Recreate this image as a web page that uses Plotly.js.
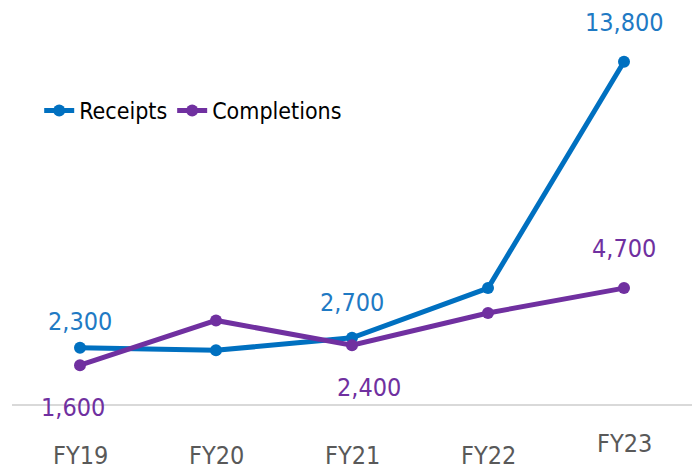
<!DOCTYPE html>
<html><head><meta charset="utf-8">
<script src="https://cdn.plot.ly/plotly-3.0.1.min.js"></script>
<style>html,body{margin:0;padding:0;background:#fff}#chart{width:692px;height:472px}</style>
</head><body><div id="chart"></div>
<script>
var categories = ["FY19", "FY20", "FY21", "FY22", "FY23"];
var receipts = [2300, 2200, 2700, 4700, 13800];
var completions = [1600, 3400, 2400, 3700, 4700];
var receiptLabelIdx = [0, 2, 4];
var completionLabelIdx = [0, 2, 4];

var FONT = '"DejaVu Sans Condensed", "Liberation Sans Narrow", sans-serif';
var BLUE = '#0070C0', PURPLE = '#7030A0';
function fmt(v){ return v.toLocaleString('en-US'); }

var traces = [
  {x: categories, y: receipts, name: 'Receipts', type: 'scatter', mode: 'lines+markers',
   line: {color: BLUE, width: 5}, marker: {color: BLUE, size: 12}, cliponaxis: false},
  {x: categories, y: completions, name: 'Completions', type: 'scatter', mode: 'lines+markers',
   line: {color: PURPLE, width: 5}, marker: {color: PURPLE, size: 12}, cliponaxis: false}
];

var rShift = {0: [0, 26], 2: [0, 35], 4: [0, 39]};
var cShift = {0: [-7, -42], 2: [17, -42], 4: [0, 40]};
var annotations = [];
receiptLabelIdx.forEach(function(i){
  annotations.push({x: categories[i], y: receipts[i], xref: 'x', yref: 'y', text: fmt(receipts[i]),
    showarrow: false, xshift: rShift[i][0], yshift: rShift[i][1], font: {family: FONT, size: 25, color: '#1F7AC4'}});
});
completionLabelIdx.forEach(function(i){
  annotations.push({x: categories[i], y: completions[i], xref: 'x', yref: 'y', text: fmt(completions[i]),
    showarrow: false, xshift: cShift[i][0], yshift: cShift[i][1], font: {family: FONT, size: 25, color: PURPLE}});
});
categories.forEach(function(c, i){
  annotations.push({x: c, y: 0, xref: 'x', yref: 'y', text: c, showarrow: false,
    yshift: (i === 4 ? -38 : -50), font: {family: FONT, size: 25, color: '#595959'}});
});

var layout = {
  width: 692, height: 472,
  margin: {l: 12, r: 0, t: 7, b: 67},
  paper_bgcolor: '#fff', plot_bgcolor: '#fff',
  showlegend: true,
  legend: {orientation: 'h', x: 0.04, y: 0.74, xanchor: 'left', yanchor: 'middle',
    font: {family: FONT, size: 23, color: '#000'}, itemwidth: 30, tracegroupgap: 0, bgcolor: 'rgba(0,0,0,0)'},
  xaxis: {type: 'category', range: [-0.5, 4.5], showgrid: false, zeroline: false,
    showticklabels: false, ticks: '', showline: false, fixedrange: true},
  yaxis: {range: [0, 16000], showgrid: false, zeroline: true, zerolinecolor: '#D9D9D9', zerolinewidth: 2,
    showticklabels: false, ticks: '', showline: false, fixedrange: true},
  annotations: annotations
};
Plotly.newPlot('chart', traces, layout, {displayModeBar: false, staticPlot: true});
</script></body></html>
